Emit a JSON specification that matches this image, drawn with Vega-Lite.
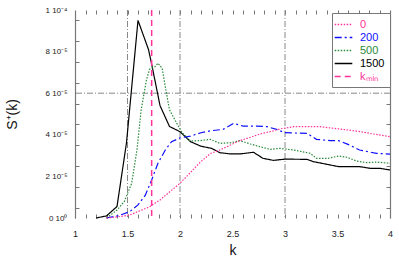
{
  "$schema": "https://vega.github.io/schema/vega-lite/v6.json",
  "width": 315,
  "height": 208,
  "autosize": {"type": "none"},
  "padding": {"left": 75, "top": 10, "right": 9, "bottom": 45},
  "background": "white",
  "config": {
    "view": {"stroke": null},
    "font": "Liberation Sans",
    "axis": {"grid": false, "tickColor": "#777", "domainColor": "#888", "labelFont": "Liberation Sans", "titleFont": "Liberation Sans", "titleFontWeight": "normal", "labelColor": "#222", "titleColor": "#111"}
  },
  "datasets": {
    "curves": [
      {"series": "1500", "k": 1.2, "s": 0},
      {"series": "1500", "k": 1.3, "s": 0.000001},
      {"series": "1500", "k": 1.4, "s": 0.0000055},
      {"series": "1500", "k": 1.49, "s": 0.000036},
      {"series": "1500", "k": 1.6, "s": 0.000095},
      {"series": "1500", "k": 1.7, "s": 0.000081},
      {"series": "1500", "k": 1.73, "s": 0.000074},
      {"series": "1500", "k": 1.81, "s": 0.000054},
      {"series": "1500", "k": 1.9, "s": 0.000044},
      {"series": "1500", "k": 2.0, "s": 0.0000415},
      {"series": "1500", "k": 2.1, "s": 0.0000367},
      {"series": "1500", "k": 2.2, "s": 0.0000345},
      {"series": "1500", "k": 2.3, "s": 0.0000335},
      {"series": "1500", "k": 2.38, "s": 0.0000314},
      {"series": "1500", "k": 2.48, "s": 0.0000308},
      {"series": "1500", "k": 2.57, "s": 0.0000308},
      {"series": "1500", "k": 2.7, "s": 0.0000316},
      {"series": "1500", "k": 2.79, "s": 0.0000287},
      {"series": "1500", "k": 2.89, "s": 0.0000277},
      {"series": "1500", "k": 3.0, "s": 0.0000283},
      {"series": "1500", "k": 3.21, "s": 0.0000282},
      {"series": "1500", "k": 3.27, "s": 0.0000271},
      {"series": "1500", "k": 3.4, "s": 0.0000258},
      {"series": "1500", "k": 3.51, "s": 0.0000247},
      {"series": "1500", "k": 3.71, "s": 0.0000247},
      {"series": "1500", "k": 3.81, "s": 0.0000239},
      {"series": "1500", "k": 3.9, "s": 0.0000239},
      {"series": "1500", "k": 4.0, "s": 0.0000231},
      {"series": "500", "k": 1.3, "s": 0},
      {"series": "500", "k": 1.4, "s": 0.0000038},
      {"series": "500", "k": 1.47, "s": 0.000008},
      {"series": "500", "k": 1.54, "s": 0.0000167},
      {"series": "500", "k": 1.59, "s": 0.0000327},
      {"series": "500", "k": 1.63, "s": 0.0000519},
      {"series": "500", "k": 1.68, "s": 0.0000663},
      {"series": "500", "k": 1.71, "s": 0.0000715},
      {"series": "500", "k": 1.76, "s": 0.0000727},
      {"series": "500", "k": 1.79, "s": 0.0000744},
      {"series": "500", "k": 1.83, "s": 0.000072},
      {"series": "500", "k": 1.86, "s": 0.0000631},
      {"series": "500", "k": 1.9, "s": 0.000052},
      {"series": "500", "k": 1.97, "s": 0.0000455},
      {"series": "500", "k": 2.02, "s": 0.000041},
      {"series": "500", "k": 2.1, "s": 0.000037},
      {"series": "500", "k": 2.19, "s": 0.0000372},
      {"series": "500", "k": 2.29, "s": 0.0000378},
      {"series": "500", "k": 2.38, "s": 0.0000359},
      {"series": "500", "k": 2.49, "s": 0.0000362},
      {"series": "500", "k": 2.57, "s": 0.0000372},
      {"series": "500", "k": 2.67, "s": 0.0000356},
      {"series": "500", "k": 2.76, "s": 0.0000343},
      {"series": "500", "k": 2.86, "s": 0.000033},
      {"series": "500", "k": 2.95, "s": 0.0000335},
      {"series": "500", "k": 3.08, "s": 0.0000327},
      {"series": "500", "k": 3.24, "s": 0.0000311},
      {"series": "500", "k": 3.3, "s": 0.0000287},
      {"series": "500", "k": 3.41, "s": 0.0000287},
      {"series": "500", "k": 3.51, "s": 0.0000298},
      {"series": "500", "k": 3.59, "s": 0.0000292},
      {"series": "500", "k": 3.68, "s": 0.0000274},
      {"series": "500", "k": 3.78, "s": 0.0000266},
      {"series": "500", "k": 3.87, "s": 0.0000269},
      {"series": "500", "k": 4.0, "s": 0.0000263},
      {"series": "200", "k": 1.3, "s": 0},
      {"series": "200", "k": 1.42, "s": 0.0000012},
      {"series": "200", "k": 1.52, "s": 0.000003},
      {"series": "200", "k": 1.6, "s": 0.0000063},
      {"series": "200", "k": 1.67, "s": 0.000011},
      {"series": "200", "k": 1.73, "s": 0.0000183},
      {"series": "200", "k": 1.79, "s": 0.0000263},
      {"series": "200", "k": 1.86, "s": 0.0000327},
      {"series": "200", "k": 1.92, "s": 0.0000367},
      {"series": "200", "k": 2.0, "s": 0.0000385},
      {"series": "200", "k": 2.1, "s": 0.0000394},
      {"series": "200", "k": 2.2, "s": 0.000041},
      {"series": "200", "k": 2.3, "s": 0.000042},
      {"series": "200", "k": 2.41, "s": 0.0000426},
      {"series": "200", "k": 2.51, "s": 0.0000455},
      {"series": "200", "k": 2.6, "s": 0.0000442},
      {"series": "200", "k": 2.73, "s": 0.0000442},
      {"series": "200", "k": 2.83, "s": 0.0000439},
      {"series": "200", "k": 2.92, "s": 0.0000426},
      {"series": "200", "k": 3.0, "s": 0.000041},
      {"series": "200", "k": 3.21, "s": 0.0000407},
      {"series": "200", "k": 3.3, "s": 0.0000378},
      {"series": "200", "k": 3.43, "s": 0.0000372},
      {"series": "200", "k": 3.51, "s": 0.0000372},
      {"series": "200", "k": 3.6, "s": 0.0000354},
      {"series": "200", "k": 3.71, "s": 0.0000327},
      {"series": "200", "k": 3.79, "s": 0.0000319},
      {"series": "200", "k": 3.87, "s": 0.0000311},
      {"series": "200", "k": 4.0, "s": 0.0000307},
      {"series": "0", "k": 1.3, "s": 0},
      {"series": "0", "k": 1.4, "s": 0.0000005},
      {"series": "0", "k": 1.52, "s": 0.0000014},
      {"series": "0", "k": 1.71, "s": 0.0000054},
      {"series": "0", "k": 1.81, "s": 0.0000087},
      {"series": "0", "k": 1.9, "s": 0.0000125},
      {"series": "0", "k": 2.0, "s": 0.0000167},
      {"series": "0", "k": 2.1, "s": 0.0000219},
      {"series": "0", "k": 2.19, "s": 0.0000267},
      {"series": "0", "k": 2.29, "s": 0.000031},
      {"series": "0", "k": 2.38, "s": 0.0000327},
      {"series": "0", "k": 2.48, "s": 0.0000351},
      {"series": "0", "k": 2.57, "s": 0.0000372},
      {"series": "0", "k": 2.67, "s": 0.0000388},
      {"series": "0", "k": 2.76, "s": 0.0000404},
      {"series": "0", "k": 2.86, "s": 0.0000415},
      {"series": "0", "k": 2.95, "s": 0.0000428},
      {"series": "0", "k": 3.08, "s": 0.0000439},
      {"series": "0", "k": 3.33, "s": 0.0000439},
      {"series": "0", "k": 3.52, "s": 0.0000428},
      {"series": "0", "k": 3.68, "s": 0.0000418},
      {"series": "0", "k": 3.84, "s": 0.0000404},
      {"series": "0", "k": 4.0, "s": 0.0000391}
    ],
    "kmin": [{"series": "k_min", "k": 1.73}],
    "vgrid": [{"k": 1.5}, {"k": 2}, {"k": 3}],
    "hgrid": [{"s": 0.00006}]
  },
  "layer": [
    {
      "data": {"name": "vgrid"},
      "mark": {"type": "rule", "color": "#888", "strokeWidth": 1, "strokeDash": [6, 2, 1, 2]},
      "encoding": {
        "x": {"field": "k", "type": "quantitative", "scale": {"domain": [1, 4], "nice": false, "zero": false}, "axis": null}
      }
    },
    {
      "data": {"name": "hgrid"},
      "mark": {"type": "rule", "color": "#888", "strokeWidth": 1, "strokeDash": [6, 2, 1, 2]},
      "encoding": {
        "y": {"field": "s", "type": "quantitative", "scale": {"domain": [0, 0.0001], "nice": false},
          "axis": {"orient": "right", "labels": false, "title": null, "domain": true, "domainColor": "#777", "domainWidth": 1.2, "tickSize": -4,
            "values": [0.000005, 0.000015, 0.000025, 0.000035, 0.000045, 0.000055, 0.000065, 0.000075, 0.000085, 0.000095]}}
      }
    },
    {
      "data": {"name": "curves"},
      "mark": {"type": "line", "strokeWidth": 1.2},
      "encoding": {
        "x": {"field": "k", "type": "quantitative",
          "axis": {"orient": "bottom", "title": "k", "titleFontSize": 14, "titleY": 32, "titleBaseline": "middle",
            "domain": false, "tickSize": -4, "labelPadding": 15, "labelFontSize": 9, "labelOverlap": false, "labelFlush": false,
            "values": [1, 1.1, 1.2, 1.3, 1.4, 1.5, 1.6, 1.7, 1.8, 1.9, 2, 2.1, 2.2, 2.3, 2.4, 2.5, 2.6, 2.7, 2.8, 2.9, 3, 3.1, 3.2, 3.3, 3.4, 3.5, 3.6, 3.7, 3.8, 3.9, 4],
            "labelExpr": "abs(datum.value*2 - round(datum.value*2)) < 0.01 ? format(datum.value, '~g') : ''"}},
        "y": {"field": "s", "type": "quantitative",
          "axis": {"orient": "left", "title": "S⁺(k)", "titleFontSize": 14, "titleX": -63, "titleY": 104, "titleAngle": -90, "titleAlign": "center", "titleBaseline": "middle",
            "domain": true, "domainColor": "#777", "domainWidth": 1.2, "tickSize": -4, "labelPadding": 12, "labelFontSize": 8, "labelOverlap": false, "labelFlush": false,
            "values": [0, 0.000005, 0.000015, 0.00002, 0.000025, 0.000035, 0.00004, 0.000045, 0.000055, 0.00006, 0.000065, 0.000075, 0.00008, 0.000085, 0.000095, 0.0001],
            "tickOpacity": {"condition": {"test": "abs(datum.value*1e5 - round(datum.value*1e5)) > 0.1", "value": 1}, "value": 0},
            "labelExpr": "abs(datum.value*1e5 - round(datum.value*1e5)) > 0.1 ? '' : (datum.value == 0 ? '0 10⁰' : (datum.value > 0.000099 ? '1 10⁻⁴' : format(datum.value*1e5, 'd') + ' 10⁻⁵'))"}},
        "color": {"field": "series", "type": "nominal",
          "scale": {"domain": ["0", "200", "500", "1500", "k_min"], "range": ["#ff3399", "#1010ff", "#2a8a3a", "#000000", "#ff3399"]},
          "legend": {"orient": "none", "legendX": 257, "legendY": 3, "title": null, "strokeColor": "#777", "fillColor": "white",
            "padding": 5, "symbolType": "M-1.6,0H1.6", "symbolSize": 121, "symbolStrokeWidth": 1.3, "labelOffset": 10,
            "labelFontSize": 11, "labelFont": "Liberation Sans", "rowPadding": 1,
            "labelExpr": "datum.value == 'k_min' ? 'kₘᵢₙ' : datum.label",
            "encode": {"labels": {"update": {"fill": {"signal": "datum.value == '0' || datum.value == 'k_min' ? '#ff3399' : (datum.value == '200' ? '#1010ff' : (datum.value == '500' ? '#2a8a3a' : '#000000'))"}}}}}},
        "strokeDash": {"field": "series", "type": "nominal",
          "scale": {"domain": ["0", "200", "500", "1500", "k_min"], "range": [[1.5, 1.5], [7, 3, 2, 3], [1.5, 1.5], [1, 0], [6, 4]]},
          "legend": null}
      }
    },
    {
      "data": {"name": "kmin"},
      "mark": {"type": "rule", "strokeWidth": 1.5},
      "encoding": {
        "x": {"field": "k", "type": "quantitative",
          "axis": {"orient": "top", "labels": false, "title": null, "domain": false, "tickSize": -4,
            "values": [1.1, 1.2, 1.3, 1.4, 1.5, 1.6, 1.7, 1.8, 1.9, 2, 2.1, 2.2, 2.3, 2.4, 2.5, 2.6, 2.7, 2.8, 2.9, 3, 3.1, 3.2, 3.3, 3.4, 3.5, 3.6, 3.7, 3.8, 3.9]}},
        "color": {"field": "series", "type": "nominal"},
        "strokeDash": {"field": "series", "type": "nominal", "legend": null}
      }
    }
  ],
  "resolve": {"axis": {"x": "independent", "y": "independent"}}
}
